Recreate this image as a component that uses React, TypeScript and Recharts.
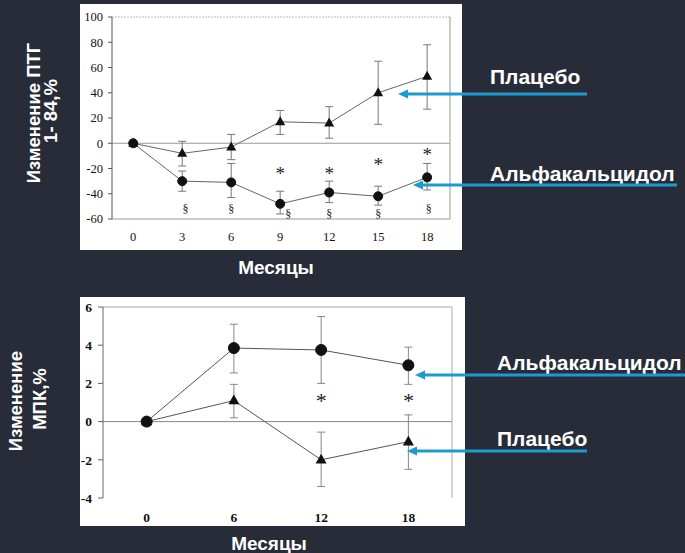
import React from 'react'
import { ComposedChart, Line, XAxis, YAxis, ErrorBar, ReferenceLine, ReferenceDot } from 'recharts'

// PTH (1-84) change, %, by month
const ptgMonths = [0, 3, 6, 9, 12, 15, 18]
const ptgPlacebo = [0, -8, -3, 17, 16, 40, 53]
const ptgPlaceboLow = [0, -18, -13, 7, 4, 15, 27]
const ptgPlaceboHigh = [0, 1.5, 7, 26, 29, 65, 78]
const ptgAlfa = [0, -30, -31, -48, -39, -42, -27]
const ptgAlfaLow = [0, -38, -43, -56, -47, -49, -37]
const ptgAlfaHigh = [0, -22, -16, -38, -30, -34, -16]
const ptgTicksX = [0, 3, 6, 9, 12, 15, 18]
const ptgTicksY = [-60, -40, -20, 0, 20, 40, 60, 80, 100]
const ptgStarX = [9, 12, 15, 18]
const ptgStarY = [-22, -22, -14.5, -7]
const ptgSectX = [3.2, 6, 9.5, 12, 15, 18.1]
const ptgSectY = [-52, -52, -56, -56, -56, -52]

// BMD change, %, by month
const mpkMonths = [0, 6, 12, 18]
const mpkAlfa = [0, 3.85, 3.75, 2.95]
const mpkAlfaLow = [0, 2.55, 2.0, 1.95]
const mpkAlfaHigh = [0, 5.1, 5.5, 3.9]
const mpkPlacebo = [0, 1.1, -2.0, -1.05]
const mpkPlaceboLow = [0, 0.2, -3.4, -2.5]
const mpkPlaceboHigh = [0, 1.95, -0.55, 0.35]
const mpkTicksX = [0, 6, 12, 18]
const mpkTicksY = [-4, -2, 0, 2, 4, 6]
const mpkStarX = [12, 18]
const mpkStarY = [1.3, 1.3]

const BG = '#282b38'
const ARROW = '#1b9bd1'
const SERIF = '"Liberation Serif", "DejaVu Serif", serif'
const SANS = '"Liberation Sans", Arial, sans-serif'

const ptgData = ptgMonths.map((month, i) => ({
  month,
  placebo: ptgPlacebo[i],
  placeboErr: [ptgPlacebo[i] - ptgPlaceboLow[i], ptgPlaceboHigh[i] - ptgPlacebo[i]],
  alfa: ptgAlfa[i],
  alfaErr: [ptgAlfa[i] - ptgAlfaLow[i], ptgAlfaHigh[i] - ptgAlfa[i]],
}))

const mpkData = mpkMonths.map((month, i) => ({
  month,
  placebo: mpkPlacebo[i],
  placeboErr: [mpkPlacebo[i] - mpkPlaceboLow[i], mpkPlaceboHigh[i] - mpkPlacebo[i]],
  alfa: mpkAlfa[i],
  alfaErr: [mpkAlfa[i] - mpkAlfaLow[i], mpkAlfaHigh[i] - mpkAlfa[i]],
}))

const triangleDot = (size: number) => (props: any) => {
  const { cx, cy, index } = props
  if (cx == null || cy == null) return <g key={`tri-${index}`} />
  const h = size * 0.9
  return (
    <polygon
      key={`tri-${index}`}
      points={`${cx},${cy - h * 0.62} ${cx - size / 2},${cy + h * 0.38} ${cx + size / 2},${cy + h * 0.38}`}
      fill="#111"
    />
  )
}

const glyph = (ch: string, size: number, dy: number) => (props: any) => (
  <text x={props.cx} y={props.cy} dy={dy} textAnchor="middle" fontFamily={SERIF} fontSize={size} fill="#222">
    {ch}
  </text>
)

// serif tick text; Recharts passes x, y, textAnchor and payload
const serifTick = (size: number, weight: number, axis: 'x' | 'y') => (props: any) => {
  const { x, y, payload } = props
  return (
    <text
      x={x}
      y={y}
      dy={axis === 'x' ? size * 0.75 : size * 0.35}
      textAnchor={axis === 'x' ? 'middle' : 'end'}
      fontFamily={SERIF}
      fontSize={size}
      fontWeight={weight}
      fill="#111"
    >
      {payload.value}
    </text>
  )
}

function Arrow({ from, to, y }: { from: number; to: number; y: number }) {
  return (
    <g>
      <line x1={from} y1={y} x2={to + 8} y2={y} stroke={ARROW} strokeWidth={3} />
      <polygon points={`${to},${y} ${to + 10},${y - 4.5} ${to + 10},${y + 4.5}`} fill={ARROW} />
    </g>
  )
}

function PtgChart() {
  return (
    <ComposedChart width={382} height={246} data={ptgData} margin={{ top: 13, right: 12, left: 0, bottom: 3 }}>
      <XAxis
        type="number"
        dataKey="month"
        domain={[-1.3, 19.4]}
        ticks={ptgTicksX}
        allowDataOverflow
        height={28}
        axisLine={{ stroke: '#999' }}
        tickLine={false}
        tickMargin={7}
        tick={serifTick(12.5, 400, 'x')}
      />
      <YAxis
        type="number"
        domain={[-60, 100]}
        ticks={ptgTicksY}
        interval={0}
        allowDataOverflow
        width={32}
        axisLine={{ stroke: '#555' }}
        tickLine={{ stroke: '#555' }}
        tickSize={4}
        tickMargin={5}
        tick={serifTick(12.5, 400, 'y')}
      />
      <ReferenceLine y={0} stroke="#999" />
      <ReferenceLine y={100} stroke="#bbb" strokeDasharray="2 1" />
      <ReferenceLine x={19.4} stroke="#999" />
      <Line
        dataKey="placebo"
        stroke="#666"
        strokeWidth={1}
        dot={triangleDot(10)}
        isAnimationActive={false}
      >
        <ErrorBar dataKey="placeboErr" width={4} stroke="#777" strokeWidth={1} direction="y" />
      </Line>
      <Line
        dataKey="alfa"
        stroke="#666"
        strokeWidth={1}
        dot={{ r: 4.5, fill: '#111', stroke: '#111', strokeWidth: 1 }}
        isAnimationActive={false}
      >
        <ErrorBar dataKey="alfaErr" width={4} stroke="#777" strokeWidth={1} direction="y" />
      </Line>
      {ptgStarX.map((x, i) => (
        <ReferenceDot key={`s${i}`} x={x} y={ptgStarY[i]} r={0} shape={glyph('*', 19, 9)} />
      ))}
      {ptgSectX.map((x, i) => (
        <ReferenceDot key={`p${i}`} x={x} y={ptgSectY[i]} r={0} shape={glyph('§', 12, 4)} />
      ))}
    </ComposedChart>
  )
}

function MpkChart() {
  return (
    <ComposedChart width={385} height={229} data={mpkData} margin={{ top: 10, right: 13, left: 0, bottom: 2 }}>
      <XAxis
        type="number"
        dataKey="month"
        domain={[-3, 21]}
        ticks={mpkTicksX}
        allowDataOverflow
        height={26}
        axisLine={false}
        tickLine={false}
        tickMargin={8}
        tick={serifTick(13.5, 700, 'x')}
      />
      <YAxis
        type="number"
        domain={[-4, 6]}
        ticks={mpkTicksY}
        interval={0}
        allowDataOverflow
        width={23}
        axisLine={{ stroke: '#666' }}
        tickLine={{ stroke: '#666' }}
        tickSize={5}
        tickMargin={6}
        tick={serifTick(13.5, 700, 'y')}
      />
      <ReferenceLine y={0} stroke="#888" />
      <ReferenceLine y={6} stroke="#aaa" />
      <ReferenceLine x={21} stroke="#aaa" />
      <Line
        dataKey="placebo"
        stroke="#555"
        strokeWidth={1}
        dot={triangleDot(11)}
        isAnimationActive={false}
      >
        <ErrorBar dataKey="placeboErr" width={4} stroke="#888" strokeWidth={1} direction="y" />
      </Line>
      <Line
        dataKey="alfa"
        stroke="#555"
        strokeWidth={1}
        dot={{ r: 5.5, fill: '#111', stroke: '#111', strokeWidth: 1 }}
        isAnimationActive={false}
      >
        <ErrorBar dataKey="alfaErr" width={4} stroke="#888" strokeWidth={1} direction="y" />
      </Line>
      {mpkStarX.map((x, i) => (
        <ReferenceDot key={`s${i}`} x={x} y={mpkStarY[i]} r={0} shape={glyph('*', 22, 11)} />
      ))}
    </ComposedChart>
  )
}

const whiteText = { fill: '#fff', fontFamily: SANS, fontWeight: 700 } as const

export default function App() {
  return (
    <div style={{ position: 'absolute', left: 0, top: 0, width: 685, height: 553, background: BG, overflow: 'hidden' }}>
      <div style={{ position: 'absolute', left: 80, top: 4, width: 382, height: 246, background: '#fff' }}>
        <PtgChart />
      </div>
      <div style={{ position: 'absolute', left: 80, top: 297, width: 385, height: 229, background: '#fff' }}>
        <MpkChart />
      </div>
      <svg width={685} height={553} style={{ position: 'absolute', left: 0, top: 0, pointerEvents: 'none' }}>
        <g {...whiteText} fontSize={18.5} textAnchor="middle" dominantBaseline="central">
          <text transform="translate(33,113) rotate(-90)">Изменение ПТГ</text>
          <text transform="translate(50,111) rotate(-90)">1- 84,%</text>
          <text transform="translate(15,401) rotate(-90)">Изменение</text>
          <text transform="translate(39,399) rotate(-90)">МПК,%</text>
        </g>
        <g {...whiteText} fontSize={19} textAnchor="middle" dominantBaseline="central">
          <text x={276} y={267}>Месяцы</text>
          <text x={269} y={543}>Месяцы</text>
        </g>
        <g {...whiteText} fontSize={21} dominantBaseline="central">
          <text x={490} y={76}>Плацебо</text>
          <text x={490} y={173}>Альфакальцидол</text>
          <text x={497} y={362}>Альфакальцидол</text>
          <text x={497} y={438}>Плацебо</text>
        </g>
        <Arrow from={587} to={398} y={94} />
        <Arrow from={677} to={413} y={185} />
        <Arrow from={685} to={415} y={375} />
        <Arrow from={587} to={407} y={451} />
      </svg>
    </div>
  )
}
